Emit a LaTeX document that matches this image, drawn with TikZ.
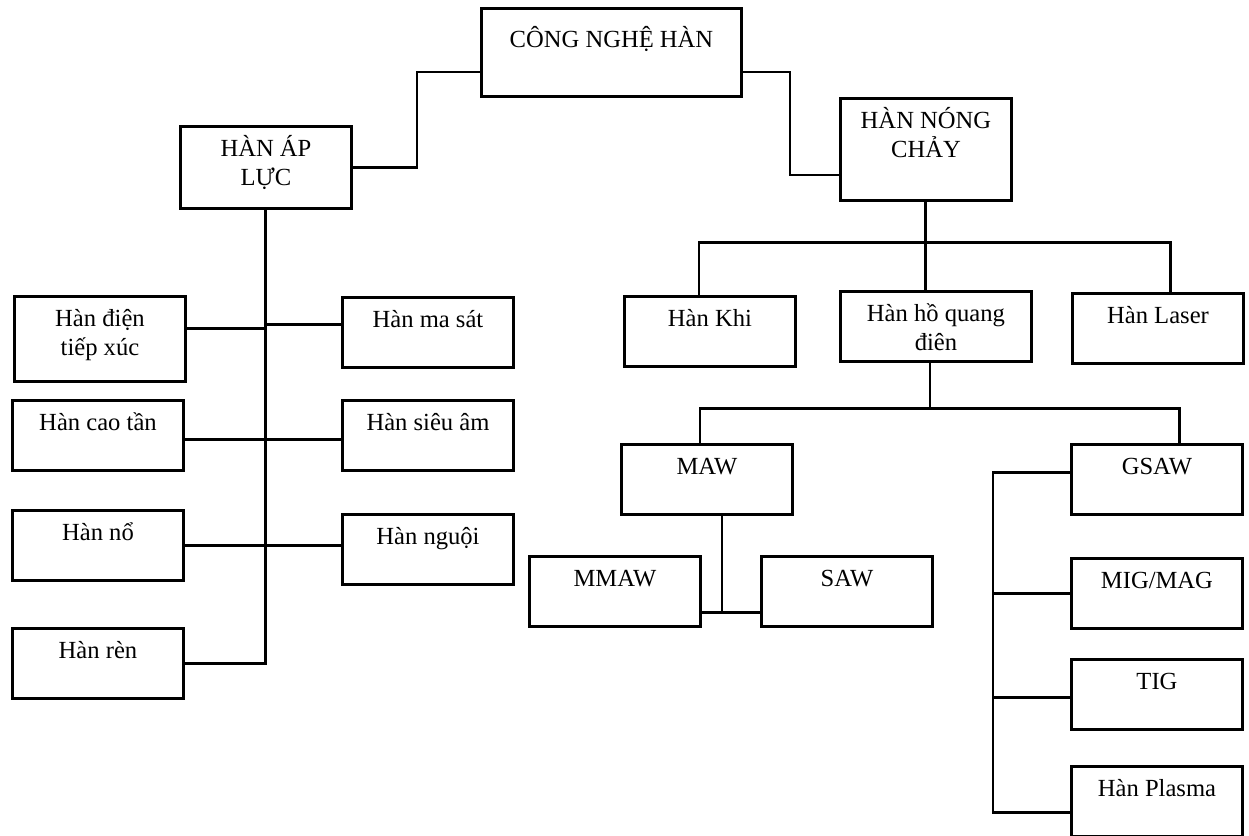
\documentclass[tikz,border=0pt]{standalone}
\usepackage{fontspec}
\setmainfont{Liberation Serif}

\begin{document}
\begin{tikzpicture}[x=0.02cm, y=-0.02cm, line width=1.7pt,
    every node/.style={font=\fontsize{14}{17}\selectfont},
    box/.style={draw, anchor=north west, inner sep=0pt, minimum width=3.42cm, minimum height=1.4cm},
    txt/.style={anchor=base, yshift=-0.62cm, align=center, inner sep=0pt},
    txttwo/.style={txt, yshift=-0.6cm}]
  \useasboundingbox (0,0) rectangle (1249,836);
  \node[box, minimum width=5.2cm, minimum height=1.76cm, label={[txt, yshift=-0.2cm]north:CÔNG NGHỆ HÀN}] (cn) at (480,7) {};
  \node[box, minimum height=1.64cm, label={[txttwo]north:HÀN ÁP\\LỰC}] (ap) at (179,125) {};
  \node[box, minimum height=2.04cm, label={[txttwo]north:HÀN NÓNG\\CHẢY}] (nc) at (839,97) {};

  \node[box, minimum height=1.7cm, label={[txttwo]north:Hàn điện\\tiếp xúc}] (dien) at (13,295) {};
  \node[box, label={[txt]north:Hàn ma sát}] (ms) at (341,296) {};
  \node[box, label={[txt]north:Hàn cao tần}] (ct) at (11,399) {};
  \node[box, label={[txt]north:Hàn siêu âm}] (sa) at (341,399) {};
  \node[box, label={[txt]north:Hàn nổ}] (no) at (11,509) {};
  \node[box, label={[txt]north:Hàn nguội}] (ng) at (341,513) {};
  \node[box, label={[txt]north:Hàn rèn}] (ren) at (11,627) {};

  \node[box, label={[txt]north:Hàn Khi}] (khi) at (623,295) {};
  \node[box, minimum width=3.82cm, label={[txttwo]north:Hàn hồ quang\\điên}] (hq) at (839,290) {};
  \node[box, label={[txt]north:Hàn Laser}] (las) at (1071,292) {};

  \node[box, label={[txt]north:MAW}] (maw) at (620,443) {};
  \node[box, label={[txt]north:MMAW}] (mmaw) at (528,555) {};
  \node[box, label={[txt]north:SAW}] (saw) at (760,555) {};

  \node[box, label={[txt]north:GSAW}] (gsaw) at (1070,443) {};
  \node[box, label={[txt]north:MIG/MAG}] (mig) at (1070,557) {};
  \node[box, label={[txt]north:TIG}] (tig) at (1070,658) {};
  \node[box, label={[txt]north:Hàn Plasma}] (pl) at (1070,765) {};

  \draw (ap.east) -| (417,72) -- (cn.west |- 0,72);
  \draw (cn.east |- 0,72) -| (790,175) -- (nc.west |- 0,175);

  \draw (ap.south) |- (ren.east);
  \draw (dien.east |- 0,328) -- (ap.south |- 0,328);
  \draw (ms.west |- 0,324) -- (ap.south |- 0,324);
  \draw (ct.east |- 0,439) -- (sa.west |- 0,439);
  \draw (no.east |- 0,545) -- (ng.west |- 0,545);

  \draw (nc.south) -- (hq.north -| nc.south);
  \draw (khi.north -| 699,0) |- (1170,242) -- (las.north -| 1170,0);

  \draw (hq.south -| 930,0) -- (930,408);
  \draw (maw.north -| 700,0) |- (1179,408) -- (gsaw.north -| 1179,0);

  \draw (maw.south -| 722,0) -- (722,613);
  \draw (mmaw.east |- 0,612) -- (saw.west |- 0,612);

  \draw (gsaw.west |- 0,472) -| (993,812) -- (pl.west |- 0,812);
  \draw (mig.west) -- (mig.west -| 993,0);
  \draw (tig.west |- 0,697) -- (993,697);
\end{tikzpicture}
\end{document}
